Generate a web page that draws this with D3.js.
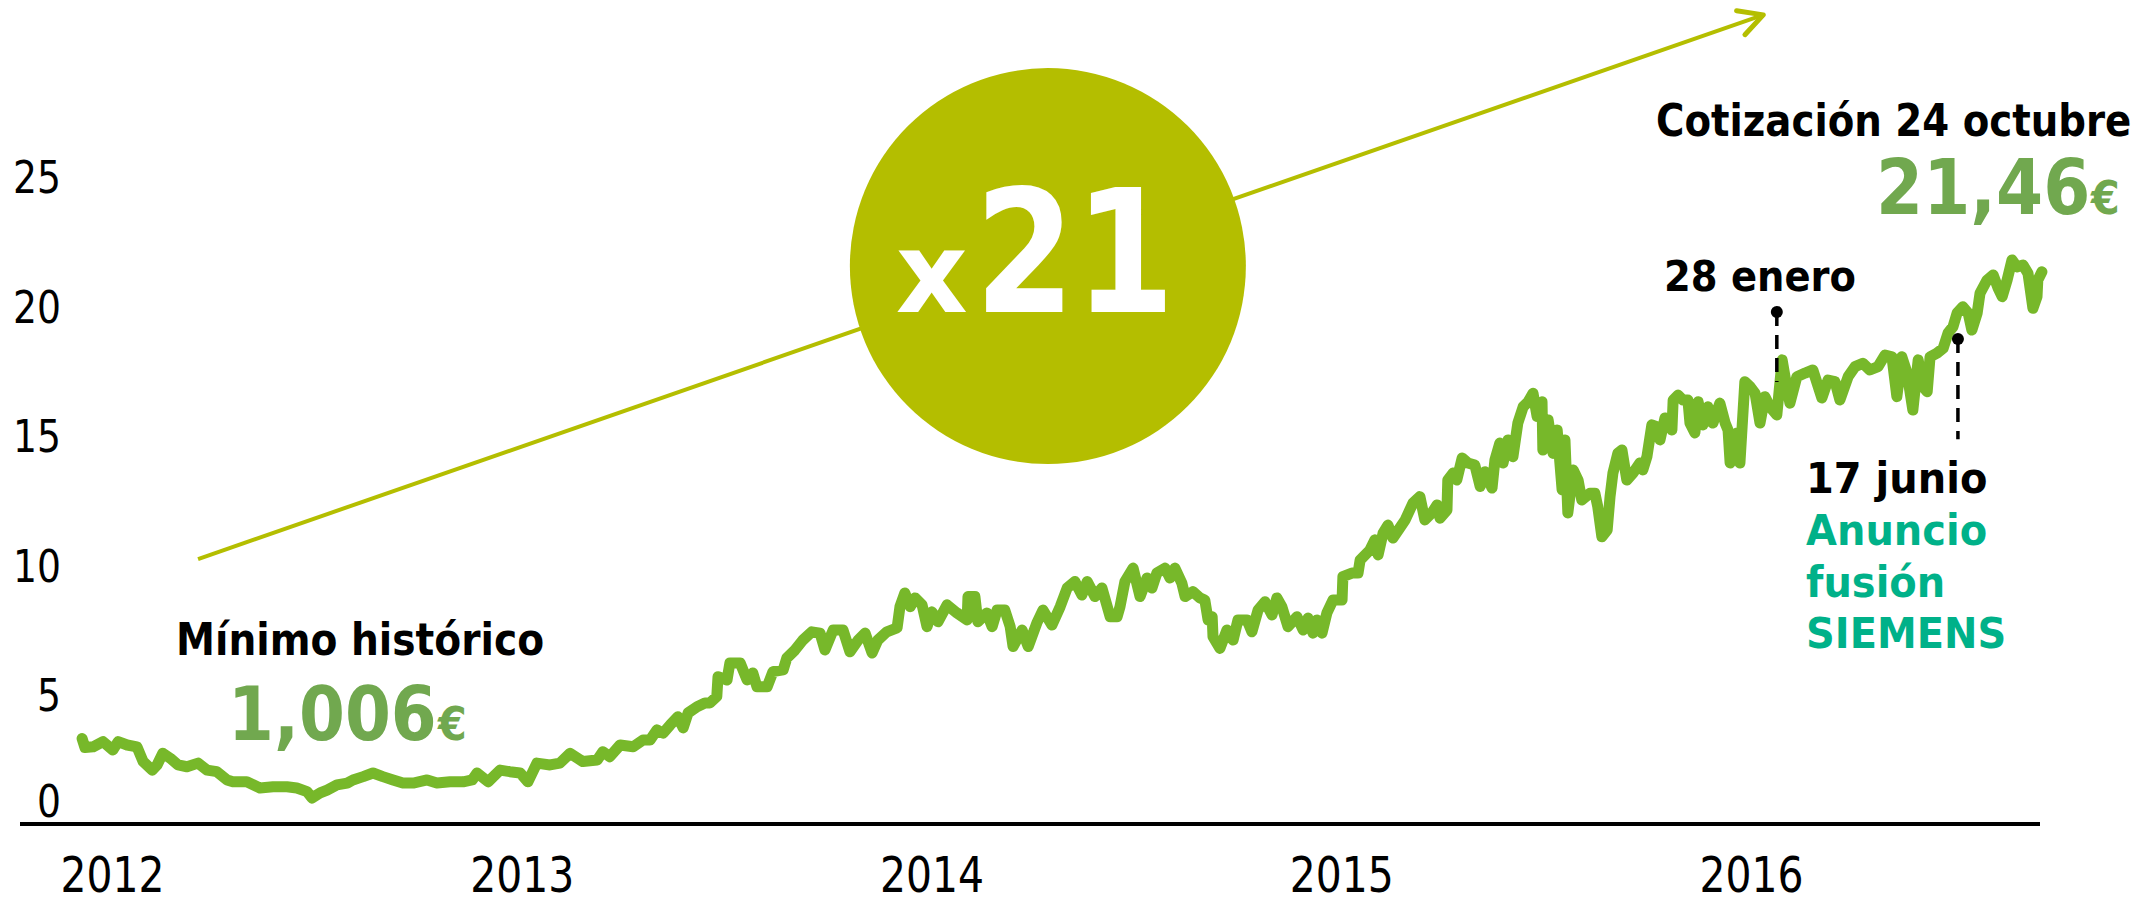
<!DOCTYPE html>
<html><head><meta charset="utf-8">
<script src="https://cdn.jsdelivr.net/npm/d3@7"></script>
<style>html,body{margin:0;padding:0;background:#fff;overflow:hidden}</style>
</head><body>
<svg id="chart" width="2143" height="904"></svg>
<script>
// ---- data ----
const yearTicks = [2012, 2013, 2014, 2015, 2016];
const valueTicks = [0, 5, 10, 15, 20, 25];
const dates = [
2011.927,2011.934,2011.954,2011.978,2012.002,2012.015,2012.037,2012.061,2012.076,2012.098,
2012.110,2012.124,2012.142,2012.161,2012.183,2012.210,2012.232,2012.256,2012.281,2012.295,
2012.329,2012.361,2012.393,2012.427,2012.451,2012.476,2012.488,2012.508,2012.525,2012.549,
2012.574,2012.588,2012.613,2012.637,2012.661,2012.686,2012.710,2012.735,2012.769,2012.793,
2012.825,2012.857,2012.879,2012.891,2012.918,2012.947,2012.971,2012.996,2013.015,2013.037,
2013.069,2013.093,2013.118,2013.149,2013.184,2013.198,2013.215,2013.240,2013.272,2013.296,
2013.313,2013.330,2013.345,2013.362,2013.381,2013.394,2013.406,2013.428,2013.447,2013.459,
2013.476,2013.479,2013.501,2013.508,2013.533,2013.550,2013.564,2013.574,2013.599,2013.613,
2013.638,2013.647,2013.667,2013.686,2013.708,2013.728,2013.740,2013.760,2013.784,2013.801,
2013.821,2013.838,2013.855,2013.869,2013.891,2013.916,2013.923,2013.935,2013.948,2013.960,
2013.977,2013.989,2014.001,2014.016,2014.038,2014.062,2014.087,2014.089,2014.106,2014.113,
2014.135,2014.148,2014.160,2014.179,2014.192,2014.199,2014.221,2014.236,2014.257,2014.272,
2014.294,2014.314,2014.331,2014.350,2014.367,2014.380,2014.399,2014.416,2014.436,2014.453,
2014.460,2014.472,2014.492,2014.509,2014.526,2014.538,2014.550,2014.570,2014.582,2014.594,
2014.611,2014.619,2014.638,2014.655,2014.667,2014.675,2014.685,2014.687,2014.704,2014.721,
2014.736,2014.748,2014.770,2014.782,2014.797,2014.814,2014.831,2014.843,2014.855,2014.870,
2014.892,2014.907,2014.919,2014.931,2014.941,2014.953,2014.965,2014.980,2015.002,2015.004,
2015.026,2015.041,2015.046,2015.070,2015.082,2015.090,2015.102,2015.114,2015.126,2015.143,
2015.156,2015.175,2015.192,2015.204,2015.221,2015.234,2015.241,2015.258,2015.260,2015.273,
2015.282,2015.295,2015.309,2015.326,2015.339,2015.351,2015.368,2015.375,2015.387,2015.395,
2015.407,2015.419,2015.431,2015.444,2015.456,2015.468,2015.478,2015.490,2015.492,2015.505,
2015.517,2015.527,2015.539,2015.546,2015.553,2015.566,2015.578,2015.587,2015.607,2015.619,
2015.626,2015.636,2015.649,2015.656,2015.663,2015.675,2015.685,2015.697,2015.712,2015.729,
2015.736,2015.746,2015.758,2015.770,2015.778,2015.790,2015.807,2015.810,2015.822,2015.834,
2015.846,2015.851,2015.863,2015.871,2015.883,2015.895,2015.907,2015.924,2015.937,2015.944,
2015.949,2015.966,2015.973,2015.985,2015.998,2016.010,2016.022,2016.034,2016.046,2016.063,
2016.076,2016.083,2016.095,2016.112,2016.132,2016.151,2016.173,2016.188,2016.205,2016.217,
2016.237,2016.254,2016.273,2016.290,2016.310,2016.327,2016.344,2016.356,2016.368,2016.381,
2016.395,2016.408,2016.420,2016.430,2016.437,2016.454,2016.469,2016.481,2016.493,2016.503,
2016.517,2016.530,2016.539,2016.552,2016.559,2016.576,2016.591,2016.603,2016.613,2016.625,
2016.637,2016.649,2016.664,2016.676,2016.688,2016.698,2016.700,2016.710
];
const prices = [
3.30,2.95,2.98,3.18,2.86,3.18,3.05,2.98,2.41,2.08,
2.28,2.73,2.54,2.28,2.21,2.35,2.08,2.02,1.70,1.63,
1.63,1.39,1.44,1.44,1.39,1.25,1.006,1.20,1.31,1.51,
1.58,1.70,1.83,1.97,1.83,1.70,1.58,1.58,1.70,1.58,
1.63,1.63,1.70,1.97,1.63,2.08,2.02,1.97,1.63,2.35,
2.28,2.35,2.73,2.41,2.47,2.79,2.60,3.05,2.98,3.24,
3.24,3.63,3.51,3.82,4.14,3.71,4.29,4.53,4.67,4.67,
4.92,5.69,5.56,6.22,6.22,5.56,5.83,5.30,5.30,5.88,
5.95,6.41,6.72,7.10,7.42,7.37,6.72,7.49,7.49,6.65,
7.10,7.37,6.60,7.10,7.42,7.57,8.39,8.92,8.39,8.73,
8.46,7.62,8.19,7.81,8.46,8.15,7.88,8.78,8.78,7.81,
8.15,7.62,8.26,8.26,7.62,6.85,7.49,6.85,7.76,8.26,
7.68,8.39,9.11,9.36,8.84,9.36,8.78,9.11,8.00,8.00,
8.39,9.36,9.88,8.78,9.50,9.11,9.69,9.88,9.50,9.88,
9.30,8.78,8.97,8.73,8.65,7.88,8.00,7.23,6.78,7.49,
7.10,7.88,7.88,7.42,8.26,8.58,8.07,8.73,8.39,7.62,
8.00,7.49,7.95,7.37,7.88,7.37,8.15,8.65,8.65,9.55,
9.69,9.69,10.19,10.58,10.97,10.39,11.23,11.54,11.04,11.43,
11.74,12.39,12.64,11.74,12.01,12.32,11.81,12.12,13.28,13.55,
13.28,14.13,13.94,13.86,13.03,13.60,12.97,14.05,14.71,13.94,
14.83,14.18,15.48,16.11,16.30,16.63,15.73,16.30,14.44,15.60,
14.31,15.21,12.90,14.83,12.01,13.67,13.28,12.51,12.77,12.77,
12.25,11.09,11.35,12.64,13.55,14.31,14.44,13.28,13.55,13.94,
13.67,14.18,15.41,15.34,14.83,15.68,15.21,16.37,16.56,16.37,
16.37,15.48,15.10,16.30,15.41,16.11,15.48,16.25,15.48,15.21,
13.94,15.10,13.94,17.08,16.88,16.63,15.48,16.50,16.11,15.79,
17.92,17.27,16.25,17.27,17.41,17.53,16.45,17.14,17.08,16.37,
17.27,17.66,17.79,17.53,17.66,18.11,18.04,16.50,18.04,17.41,
15.98,17.92,16.88,16.69,18.04,18.18,18.37,18.96,19.20,19.73,
19.97,19.73,19.07,19.73,20.50,21.00,21.20,20.69,20.36,21.00,
21.78,21.51,21.58,21.26,19.91,20.36,21.00,21.32
];
// markers: decimal year, value at dot, value at end of dashed line
const markerDates = [2016.063, 2016.505];
const markerTop = [19.77, 18.73];
const markerBottom = [17.07, 14.86];
// growth arrow and badge, in data units
const arrowFrom = [2012.21, 10.23];
const arrowTo = [2016.03, 31.24];
const badgeCenter = [2014.284, 21.54];

// ---- layout ----
const svg = d3.select("#chart");
const FONT = "'DejaVu Sans', Verdana, sans-serif";
const x = d3.scaleLinear().domain([2012, 2016]).range([112, 1751]);
const y = d3.scaleLinear().domain([0, 25]).range([824, 176.5]);

const LINE_GREEN = "#77b82a";
const OLIVE = "#b4be00";
const NUM_GREEN = "#71a84f";
const TEAL = "#00b189";

// growth arrow (behind badge)
const ax0 = x(arrowFrom[0]), ay0 = y(arrowFrom[1]);
const ax1 = x(arrowTo[0]), ay1 = y(arrowTo[1]);
const ang = Math.atan2(ay0 - ay1, ax0 - ax1);
const armLen = 27, spread = 28 * Math.PI / 180;
svg.append("line").attr("x1", ax0).attr("y1", ay0).attr("x2", ax1).attr("y2", ay1)
  .attr("stroke", OLIVE).attr("stroke-width", 4);
svg.append("path")
  .attr("d", d3.line()([
    [ax1 + armLen * Math.cos(ang + spread), ay1 + armLen * Math.sin(ang + spread)],
    [ax1, ay1],
    [ax1 + armLen * Math.cos(ang - spread), ay1 + armLen * Math.sin(ang - spread)]
  ]))
  .attr("fill", "none").attr("stroke", OLIVE).attr("stroke-width", 5)
  .attr("stroke-linecap", "round").attr("stroke-linejoin", "round");

// single text squeezed horizontally to a target ink width
function squeezed(txt, px, py, size, color, width, bold) {
  const t = svg.append("text").attr("x", 0).attr("y", 0).text(txt)
    .attr("font-family", FONT).attr("font-weight", bold ? "bold" : "normal")
    .attr("font-size", size).attr("fill", color);
  const s = width / t.node().getComputedTextLength();
  t.attr("transform", `translate(${px},${py}) scale(${s},1)`);
  return t;
}
// multi-line block: one text element, lines as tspans, common horizontal squeeze
function block(lines, ox, oy, s) {
  const t = svg.append("text").attr("font-family", FONT).attr("font-weight", "bold")
    .attr("transform", `translate(${ox},${oy}) scale(${s},1)`);
  lines.forEach(l => {
    t.append("tspan").attr("x", (l.x - ox) / s).attr("y", l.y - oy)
      .attr("font-size", l.size).attr("fill", l.color).text(l.text);
  });
  return t;
}

// badge
const bcx = x(badgeCenter[0]), bcy = y(badgeCenter[1]);
svg.append("circle").attr("cx", bcx).attr("cy", bcy).attr("r", 198).attr("fill", OLIVE);
squeezed("x", bcx - 152, bcy + 46, 112, "#fff", 72, true);
squeezed("21", bcx - 73, bcy + 46, 172, "#fff", 200, true);

// baseline axis
svg.append("line").attr("x1", 20).attr("x2", 2040).attr("y1", y(0)).attr("y2", y(0))
  .attr("stroke", "#000").attr("stroke-width", 4);

// x axis labels
const xAxis = svg.append("g").attr("transform", `translate(0,${y(0)})`)
  .call(d3.axisBottom(x).tickValues(yearTicks).tickFormat(d3.format("d")).tickSize(0));
xAxis.select(".domain").remove();
xAxis.selectAll("text").attr("y", 68).attr("dy", null)
  .attr("font-family", FONT).attr("font-size", 49).attr("fill", "#000")
  .each(function() {
    const s = 104 / this.getComputedTextLength();
    d3.select(this).attr("transform", `scale(${s},1)`);
  });

// y axis labels
const yAxis = svg.append("g").attr("transform", "translate(61,0)")
  .call(d3.axisLeft(y).tickValues(valueTicks).tickSize(0).tickPadding(0));
yAxis.select(".domain").remove();
yAxis.selectAll("text")
  .attr("x", 0).attr("dy", null)
  .attr("y", d => d === 0 ? -8 : 16)
  .attr("font-family", FONT).attr("font-size", 45).attr("fill", "#000")
  .each(function(d) {
    const s = (String(d).length * 24) / this.getComputedTextLength();
    d3.select(this).attr("transform", `scale(${s},1)`);
  });

// price line
const series = dates.map((d, i) => [d, prices[i]]);
svg.append("path").datum(series)
  .attr("d", d3.line().x(d => x(d[0])).y(d => y(d[1])))
  .attr("fill", "none").attr("stroke", LINE_GREEN).attr("stroke-width", 11)
  .attr("stroke-linejoin", "round").attr("stroke-linecap", "round");

// markers
markerDates.forEach((d, i) => {
  svg.append("line").attr("x1", x(d)).attr("x2", x(d))
    .attr("y1", y(markerTop[i])).attr("y2", y(markerBottom[i]))
    .attr("stroke", "#000").attr("stroke-width", 3.5).attr("stroke-dasharray", "14,9");
  svg.append("circle").attr("cx", x(d)).attr("cy", y(markerTop[i])).attr("r", 6).attr("fill", "#000");
});

// annotation texts
block([
  {text: "Cotización 24 octubre", x: 1656, y: 136, size: 44, color: "#000"},
  {text: "21,46", x: 1876, y: 214, size: 77, color: NUM_GREEN},
  {text: "€", x: 2091, y: 214, size: 47, color: NUM_GREEN}
], 1656, 136, 0.88);
squeezed("28 enero", 1664, 291, 43, "#000", 192, true);
block([
  {text: "17 junio", x: 1806, y: 493, size: 43, color: "#000"},
  {text: "Anuncio", x: 1806, y: 545, size: 43, color: TEAL},
  {text: "fusión", x: 1806, y: 597, size: 43, color: TEAL},
  {text: "SIEMENS", x: 1806, y: 648, size: 43, color: TEAL}
], 1806, 493, 0.93);
block([
  {text: "Mínimo histórico", x: 176, y: 655, size: 44.5, color: "#000"},
  {text: "1,006", x: 228, y: 740, size: 75, color: NUM_GREEN},
  {text: "€", x: 438, y: 740, size: 47, color: NUM_GREEN}
], 176, 655, 0.88);
</script>
</body></html>
